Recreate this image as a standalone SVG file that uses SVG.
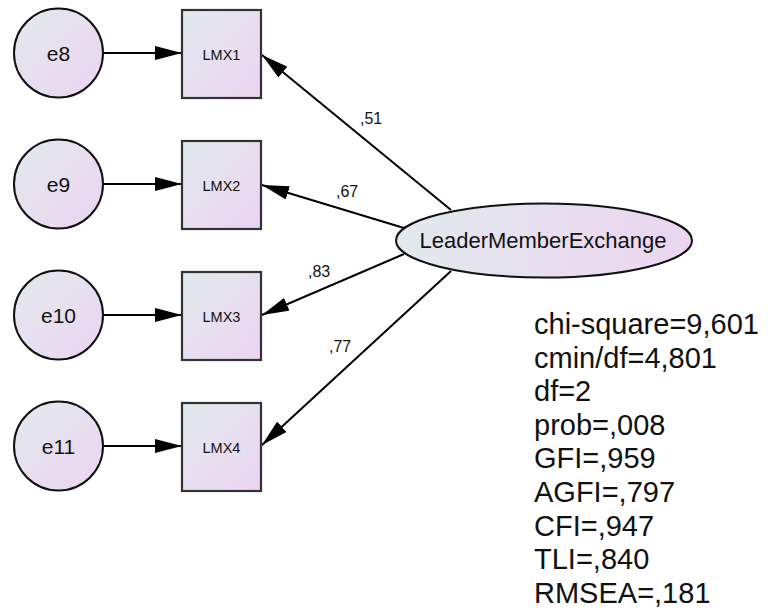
<svg xmlns="http://www.w3.org/2000/svg" width="768" height="610" viewBox="0 0 768 610">
  <defs>
    <linearGradient id="diag" x1="0" y1="0" x2="1" y2="1">
      <stop offset="0" stop-color="#e2e9ee"/>
      <stop offset="1" stop-color="#ecd5f1"/>
    </linearGradient>
    <linearGradient id="horiz" x1="0" y1="0" x2="1" y2="0">
      <stop offset="0" stop-color="#e2e9ee"/>
      <stop offset="1" stop-color="#ecd5f1"/>
    </linearGradient>
    <marker id="arrow" markerUnits="userSpaceOnUse" markerWidth="27" markerHeight="14" refX="27" refY="7" orient="auto">
      <path d="M0,0 L27,7 L0,14 z" fill="#000"/>
    </marker>
    <style>
      .err { fill: url(#diag); stroke: #111; stroke-width: 2; }
      .obs { fill: url(#diag); stroke: #333; stroke-width: 2.2; }
      .lat { fill: url(#horiz); stroke: #111; stroke-width: 2; }
      .edge { stroke: #000; stroke-width: 2; fill: none; marker-end: url(#arrow); }
      text { font-family: "Liberation Sans", Arial, sans-serif; fill: #111; }
      .etxt { font-size: 21px; text-anchor: middle; }
      .otxt { font-size: 14.5px; text-anchor: middle; }
      .ltxt { font-size: 22px; text-anchor: middle; }
      .wt { font-size: 16px; }
      .fit { font-size: 29px; }
    </style>
  </defs>

  <!-- paths -->
  <g id="connectors">
    <line class="edge" x1="103" y1="53" x2="182" y2="53"/>
    <line class="edge" x1="103" y1="184" x2="182" y2="184"/>
    <line class="edge" x1="103" y1="315" x2="182" y2="315"/>
    <line class="edge" x1="103" y1="446" x2="182" y2="446"/>
    <line class="edge" x1="451" y1="210" x2="262" y2="55"/>
    <line class="edge" x1="404" y1="228" x2="262" y2="185"/>
    <line class="edge" x1="404" y1="254" x2="262" y2="315"/>
    <line class="edge" x1="451" y1="271" x2="262" y2="445"/>
    <text class="wt" x="360" y="124">,51</text>
    <text class="wt" x="336" y="197">,67</text>
    <text class="wt" x="308" y="277">,83</text>
    <text class="wt" x="329" y="352">,77</text>
  </g>

  <!-- error terms -->
  <g id="e8"><circle class="err" cx="58.5" cy="53" r="44.5"/><text class="etxt" x="58.5" y="61">e8</text></g>
  <g id="e9"><circle class="err" cx="58.5" cy="184" r="44.5"/><text class="etxt" x="58.5" y="192">e9</text></g>
  <g id="e10"><circle class="err" cx="58.5" cy="315" r="44.5"/><text class="etxt" x="58.5" y="323">e10</text></g>
  <g id="e11"><circle class="err" cx="58.5" cy="446" r="44.5"/><text class="etxt" x="58.5" y="454">e11</text></g>

  <!-- observed indicators -->
  <g id="LMX1"><rect class="obs" x="182" y="10" width="79" height="88"/><text class="otxt" x="221.5" y="59.5">LMX1</text></g>
  <g id="LMX2"><rect class="obs" x="182" y="141" width="79" height="88"/><text class="otxt" x="221.5" y="190.5">LMX2</text></g>
  <g id="LMX3"><rect class="obs" x="182" y="272" width="79" height="88"/><text class="otxt" x="221.5" y="321.5">LMX3</text></g>
  <g id="LMX4"><rect class="obs" x="182" y="403" width="79" height="88"/><text class="otxt" x="221.5" y="452.5">LMX4</text></g>

  <!-- latent factor -->
  <g id="LeaderMemberExchange">
    <ellipse class="lat" cx="544" cy="240.5" rx="148" ry="37"/>
    <text class="ltxt" x="543" y="248">LeaderMemberExchange</text>
  </g>

  <!-- fit indices -->
  <g id="fit-indices">
    <text class="fit" x="534" y="334">chi-square=9,601</text>
    <text class="fit" x="534" y="367.6">cmin/df=4,801</text>
    <text class="fit" x="534" y="401.2">df=2</text>
    <text class="fit" x="534" y="434.8">prob=,008</text>
    <text class="fit" x="534" y="468.4">GFI=,959</text>
    <text class="fit" x="534" y="502">AGFI=,797</text>
    <text class="fit" x="534" y="535.6">CFI=,947</text>
    <text class="fit" x="534" y="569.2">TLI=,840</text>
    <text class="fit" x="534" y="602.8">RMSEA=,181</text>
  </g>
</svg>
